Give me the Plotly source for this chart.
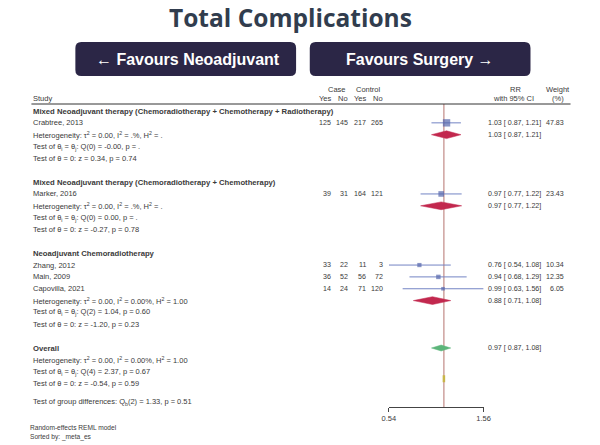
import plotly.graph_objects as go

# ---------------- data ----------------
studies = ["Crabtree, 2013", "Marker, 2016", "Zhang, 2012", "Main, 2009", "Capovilla, 2021"]
study_rows = [1, 7, 13, 14, 15]
case_yes = [125, 39, 33, 36, 14]
case_no = [145, 31, 22, 52, 24]
ctrl_yes = [217, 164, 11, 56, 71]
ctrl_no = [265, 121, 3, 72, 120]
rr = [1.03, 0.97, 0.76, 0.94, 0.99]
rr_lo = [0.87, 0.77, 0.54, 0.68, 0.63]
rr_hi = [1.21, 1.22, 1.08, 1.29, 1.56]
weights = [47.83, 23.43, 10.34, 12.35, 6.05]

group_names = [
    "Mixed Neoadjuvant therapy (Chemoradiotherapy + Chemotherapy + Radiotherapy)",
    "Mixed Neoadjuvant therapy (Chemoradiotherapy + Chemotherapy)",
    "Neoadjuvant Chemoradiotherapy",
]
group_header_rows = [0, 6, 12]
group_stat_rows = [2, 8, 16]
group_rr = [1.03, 0.97, 0.88]
group_lo = [0.87, 0.77, 0.71]
group_hi = [1.21, 1.22, 1.08]
group_het = [
    "Heterogeneity: τ<sup>2</sup> = 0.00, I<sup>2</sup> = .%, H<sup>2</sup> = .",
    "Heterogeneity: τ<sup>2</sup> = 0.00, I<sup>2</sup> = .%, H<sup>2</sup> = .",
    "Heterogeneity: τ<sup>2</sup> = 0.00, I<sup>2</sup> = 0.00%, H<sup>2</sup> = 1.00",
]
group_q = [
    "Test of θ<sub>i</sub> = θ<sub>j</sub>: Q(0) = -0.00, p = .",
    "Test of θ<sub>i</sub> = θ<sub>j</sub>: Q(0) = 0.00, p = .",
    "Test of θ<sub>i</sub> = θ<sub>j</sub>: Q(2) = 1.04, p = 0.60",
]
group_z = [
    "Test of θ = 0: z = 0.34, p = 0.74",
    "Test of θ = 0: z = -0.27, p = 0.78",
    "Test of θ = 0: z = -1.20, p = 0.23",
]

overall_row = 20
overall_rr = 0.97
overall_lo = 0.87
overall_hi = 1.08
overall_het = "Heterogeneity: τ<sup>2</sup> = 0.00, I<sup>2</sup> = 0.00%, H<sup>2</sup> = 1.00"
overall_q = "Test of θ<sub>i</sub> = θ<sub>j</sub>: Q(4) = 2.37, p = 0.67"
overall_z = "Test of θ = 0: z = -0.54, p = 0.59"
group_diff = "Test of group differences: Q<sub>b</sub>(2) = 1.33, p = 0.51"
footnotes = ["Random-effects REML model", "Sorted by: _meta_es"]

axis_ticks = [0.54, 1.56]
axis_tick_labels = ["0.54", "1.56"]

title_text = "Total Complications"
left_button = "← Favours Neoadjuvant"
right_button = "Favours Surgery →"

# ---------------- styling ----------------
W, H = 600, 445
FONT = "Liberation Sans, Arial, sans-serif"
TXT = "#3a3a3a"
SMALL = 7.5
NUM = 7.1
BOLD = 7.7
ROW0_PX, ROW_PX = 111, 11.85
AXIS_PX = 407


def px_x(p):
    return p / W


def px_y(p):
    return 1 - p / H


fig = go.Figure()

# CI lines for studies
ci_x, ci_y = [], []
for lo, hi, r in zip(rr_lo, rr_hi, study_rows):
    ci_x += [lo, hi, None]
    ci_y += [r, r, None]
fig.add_trace(go.Scatter(x=ci_x, y=ci_y, mode="lines",
                         line=dict(color="#7384c4", width=1), hoverinfo="skip",
                         cliponaxis=False, showlegend=False))

# Null line (RR = 1)
fig.add_shape(type="line", xref="x", yref="y", x0=1, x1=1,
              y0=(104 - ROW0_PX) / ROW_PX, y1=(AXIS_PX - ROW0_PX) / ROW_PX,
              line=dict(color="#b5736e", width=1), layer="below")

# Study squares
fig.add_trace(go.Scatter(x=rr, y=study_rows, mode="markers",
                         marker=dict(symbol="square", color="#5566ad",
                                     size=[1.5 + 0.85 * w ** 0.5 for w in weights],
                                     line=dict(width=0)),
                         hoverinfo="skip", cliponaxis=False, showlegend=False))


def diamond(center, lo, hi, row, half, color):
    fig.add_trace(go.Scatter(x=[lo, center, hi, center, lo],
                             y=[row, row - half, row, row + half, row],
                             mode="lines", fill="toself", fillcolor=color,
                             line=dict(color=color, width=0.5),
                             hoverinfo="skip", cliponaxis=False, showlegend=False))


for c, lo, hi, r in zip(group_rr, group_lo, group_hi, group_stat_rows):
    diamond(c, lo, hi, r, 0.33, "#c2284e")
diamond(overall_rr, overall_lo, overall_hi, overall_row, 0.25, "#5cb57a")

# small olive dashed marker on the null line
fig.add_trace(go.Scatter(x=[1, 1], y=[22.3, 22.9], mode="lines",
                         line=dict(color="#c9b548", width=2.5),
                         hoverinfo="skip", showlegend=False))


def text(xp, row, s, anchor="left", bold=False, size=SMALL, color=TXT):
    if bold:
        s = "<b>" + s + "</b>"
    fig.add_annotation(x=px_x(xp), xref="paper", y=row, yref="y", text=s,
                       showarrow=False, xanchor=anchor, yanchor="middle",
                       font=dict(family=FONT, size=size, color=color))


# headers
hdr_row_top = (89 - ROW0_PX) / ROW_PX
hdr_row_bot = (98 - ROW0_PX) / ROW_PX
text(25, hdr_row_bot, "Study")
text(338, hdr_row_top, "Case", "center")
text(370, hdr_row_top, "Control", "center")
for xp, s in zip([334, 351, 370, 387], ["Yes", "No", "Yes", "No"]):
    text(xp, hdr_row_bot, s, "right")
text(521, hdr_row_top, "RR", "center")
text(519, hdr_row_bot, "with 95% CI", "center")
text(564, hdr_row_top, "Weight", "center")
text(564, hdr_row_bot, "(%)", "center")
fig.add_shape(type="line", xref="paper", yref="y", x0=px_x(25), x1=px_x(577),
              y0=(104 - ROW0_PX) / ROW_PX, y1=(104 - ROW0_PX) / ROW_PX,
              line=dict(color="#333333", width=1))

# studies
for i, s in enumerate(studies):
    r = study_rows[i]
    text(25, r, s)
    for xp, v in zip([334, 351, 370, 387], [case_yes[i], case_no[i], ctrl_yes[i], ctrl_no[i]]):
        text(xp, r, str(v), "right", size=NUM)
    text(490, r, f"{rr[i]:.2f} [ {rr_lo[i]:.2f}, {rr_hi[i]:.2f}]", size=NUM)
    text(572, r, f"{weights[i]:.2f}", "right", size=NUM)

# groups
for g in range(3):
    text(25, group_header_rows[g], group_names[g], bold=True, size=BOLD)
    r = group_stat_rows[g]
    text(25, r, group_het[g])
    text(25, r + 1, group_q[g])
    text(25, r + 2, group_z[g])
    text(490, r, f"{group_rr[g]:.2f} [ {group_lo[g]:.2f}, {group_hi[g]:.2f}]", size=NUM)

# overall
text(25, overall_row, "Overall", bold=True, size=BOLD)
text(25, overall_row + 1, overall_het)
text(25, overall_row + 2, overall_q)
text(25, overall_row + 3, overall_z)
text(490, overall_row, f"{overall_rr:.2f} [ {overall_lo:.2f}, {overall_hi:.2f}]", size=NUM)
text(25, (402 - ROW0_PX) / ROW_PX, group_diff)

# footnotes
fig.add_annotation(x=px_x(22), xref="paper", y=px_y(432.5), yref="paper",
                   text="<br>".join(footnotes), showarrow=False, align="left",
                   xanchor="left", yanchor="middle",
                   font=dict(family=FONT, size=6.6, color=TXT))

# title
fig.add_annotation(x=px_x(290), xref="paper", y=px_y(17), yref="paper",
                   text="<b>" + title_text + "</b>", showarrow=False,
                   xanchor="center", yanchor="middle",
                   font=dict(family="Open Sans, sans-serif", size=24.5, color="#313d4e"))


def rounded_rect(x0, y0, x1, y1, r, color):
    X0, X1 = px_x(x0), px_x(x1)
    Y0, Y1 = px_y(y0), px_y(y1)
    rx, ry = r / W, r / H
    path = (f"M {X0+rx},{Y0} L {X1-rx},{Y0} Q {X1},{Y0} {X1},{Y0-ry} "
            f"L {X1},{Y1+ry} Q {X1},{Y1} {X1-rx},{Y1} "
            f"L {X0+rx},{Y1} Q {X0},{Y1} {X0},{Y1+ry} "
            f"L {X0},{Y0-ry} Q {X0},{Y0} {X0+rx},{Y0} Z")
    fig.add_shape(type="path", xref="paper", yref="paper", path=path,
                  fillcolor=color, line=dict(width=0))


rounded_rect(70, 42, 296, 76, 6, "#2b2646")
rounded_rect(310, 42, 536, 76, 6, "#2b2646")
for cx, s in [(185, left_button), (423, right_button)]:
    fig.add_annotation(x=px_x(cx), xref="paper", y=px_y(59), yref="paper",
                       text="<b>" + s + "</b>", showarrow=False,
                       xanchor="center", yanchor="middle",
                       font=dict(family=FONT, size=16, color="white"))

fig.update_layout(
    width=W, height=H, margin=dict(l=0, r=0, t=0, b=0),
    paper_bgcolor="white", plot_bgcolor="white", showlegend=False,
    xaxis=dict(type="log", range=[-0.2676, 0.1931],
               domain=[391 / W, 488 / W],
               tickvals=axis_ticks, ticktext=axis_tick_labels,
               ticks="outside", ticklen=4, tickcolor="#444", tickwidth=1,
               showline=True, linecolor="#444", linewidth=1,
               showgrid=False, zeroline=False,
               tickfont=dict(family=FONT, size=SMALL, color=TXT)),
    yaxis=dict(domain=[1 - AXIS_PX / H, 1],
               range=[(AXIS_PX - ROW0_PX) / ROW_PX, (0 - ROW0_PX) / ROW_PX],
               visible=False, showgrid=False, zeroline=False),
)

fig.write_html("out.html")
